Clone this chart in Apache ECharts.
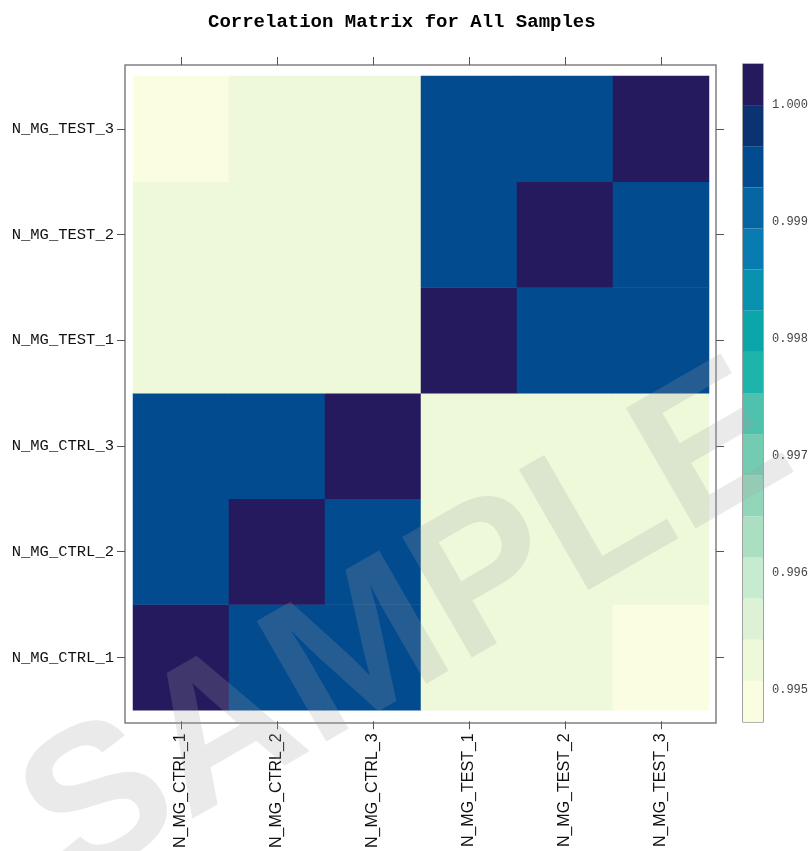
<!DOCTYPE html>
<html>
<head>
<meta charset="utf-8">
<script src="https://cdn.jsdelivr.net/npm/echarts@6/dist/echarts.min.js"></script>
<style>
    html, body {margin: 0; padding: 0; background: #fff;}
    #chart {width: 811px; height: 851px;}
</style>
</head>
<body>
<div id="chart"></div>
<script>
// sample names, bottom-to-top on y, left-to-right on x
const samples = ['N_MG_CTRL_1', 'N_MG_CTRL_2', 'N_MG_CTRL_3', 'N_MG_TEST_1', 'N_MG_TEST_2', 'N_MG_TEST_3'];

// correlation rows (one per sample, columns in the same order as samples)
const rowCtrl1 = [1.00000, 0.99952, 0.99950, 0.99530, 0.99520, 0.99505];
const rowCtrl2 = [0.99952, 1.00000, 0.99945, 0.99525, 0.99535, 0.99515];
const rowCtrl3 = [0.99950, 0.99945, 1.00000, 0.99540, 0.99530, 0.99520];
const rowTest1 = [0.99530, 0.99525, 0.99540, 1.00000, 0.99948, 0.99942];
const rowTest2 = [0.99520, 0.99535, 0.99530, 0.99948, 1.00000, 0.99950];
const rowTest3 = [0.99505, 0.99515, 0.99520, 0.99942, 0.99950, 1.00000];

// colour key: 16 levels, breaks and colours from low to high
const colorBreaks = [0.994725, 0.995076, 0.995428, 0.995779, 0.996130, 0.996481, 0.996833, 0.997184,
    0.997535, 0.997886, 0.998238, 0.998589, 0.998940, 0.999291, 0.999643, 0.999994, 1.000345];
const colorLevels = ['#fafde0', '#eef9da', '#ddf2d5', '#c7ebcf', '#abdfc1', '#92d6b9', '#73ccb2', '#4fc2ae',
    '#1db5ab', '#0aa6aa', '#0892ae', '#087cb0', '#0665a3', '#034b8f', '#0b3372', '#261a5e'];
const keyTicks = [0.995, 0.996, 0.997, 0.998, 0.999, 1.000];

const rows = [rowCtrl1, rowCtrl2, rowCtrl3, rowTest1, rowTest2, rowTest3];
const heatData = [];
rows.forEach((row, yi) => {
    row.forEach((v, xi) => {
        heatData.push([xi, yi, v]);
    });
});

const pieces = colorLevels.map((c, i) => {
    return {gte: colorBreaks[i], lt: colorBreaks[i + 1], color: c};
});
const keyData = colorLevels.map((c, i) => [i, colorBreaks[i], colorBreaks[i + 1]]);

const monoFont = '"Liberation Mono", "DejaVu Sans Mono", monospace';
const sansFont = '"Liberation Sans", Arial, sans-serif';
const tickStyle = {color: '#555', width: 1};

const chart = echarts.init(document.getElementById('chart'));
chart.setOption({
    animation: false,
    backgroundColor: '#fff',
    title: {
        text: 'Correlation Matrix for All Samples',
        left: 203,
        top: 8,
        textStyle: {fontFamily: monoFont, fontWeight: 'bold', fontSize: 19, color: '#000'}
    },
    grid: [
        // heatmap cells
        {left: 133, top: 76, width: 576, height: 636, show: false},
        // lattice panel box
        {left: 125, top: 65, width: 591, height: 658, show: true, borderColor: '#808080', borderWidth: 1.5, backgroundColor: 'transparent'},
        // colour key
        {left: 743, top: 64, width: 21, height: 658, show: true, borderColor: '#666', borderWidth: 1.2, backgroundColor: 'transparent'}
    ],
    visualMap: {
        type: 'piecewise',
        show: false,
        seriesIndex: 0,
        dimension: 2,
        pieces: pieces
    },
    xAxis: [
        {
            type: 'category', gridIndex: 0, data: samples, position: 'bottom', offset: 11,
            axisLine: {show: false},
            axisTick: {show: true, interval: 0, alignWithLabel: true, length: 8, lineStyle: tickStyle},
            axisLabel: {interval: 0, rotate: 90, margin: 12, fontFamily: sansFont, fontSize: 16, color: '#111'},
            splitLine: {show: false}
        },
        {
            type: 'category', gridIndex: 0, data: samples, position: 'top', offset: 11,
            axisLine: {show: false},
            axisTick: {show: true, interval: 0, alignWithLabel: true, length: 8, lineStyle: tickStyle},
            axisLabel: {show: false, interval: 0},
            splitLine: {show: false}
        },
        {type: 'value', gridIndex: 1, show: false},
        {type: 'value', gridIndex: 2, min: 0, max: 1, show: false}
    ],
    yAxis: [
        {
            type: 'category', gridIndex: 0, data: samples, position: 'left', offset: 8,
            axisLine: {show: false},
            axisTick: {show: true, interval: 0, alignWithLabel: true, length: 8, lineStyle: tickStyle},
            axisLabel: {interval: 0, margin: 11, fontFamily: monoFont, fontSize: 15.5, color: '#111'},
            splitLine: {show: false}
        },
        {
            type: 'category', gridIndex: 0, data: samples, position: 'right', offset: 7,
            axisLine: {show: false},
            axisTick: {show: true, interval: 0, alignWithLabel: true, length: 8, lineStyle: tickStyle},
            axisLabel: {show: false, interval: 0},
            splitLine: {show: false}
        },
        {type: 'value', gridIndex: 1, show: false},
        {
            type: 'value', gridIndex: 2, position: 'right',
            min: colorBreaks[0], max: colorBreaks[colorBreaks.length - 1],
            axisLine: {show: false},
            axisTick: {show: true, length: 5, customValues: keyTicks, lineStyle: tickStyle},
            axisLabel: {
                show: true, margin: 9, customValues: keyTicks, fontFamily: monoFont, fontSize: 12, color: '#444',
                formatter: v => v.toFixed(3)
            },
            splitLine: {show: false}
        }
    ],
    series: [
        {
            type: 'heatmap',
            xAxisIndex: 0,
            yAxisIndex: 0,
            data: heatData,
            itemStyle: {borderWidth: 0},
            emphasis: {disabled: true}
        },
        {
            type: 'custom',
            xAxisIndex: 3,
            yAxisIndex: 3,
            data: keyData,
            silent: true,
            renderItem: (params, api) => {
                let lvl = api.value(0);
                let p0 = api.coord([0, api.value(2)]);
                let p1 = api.coord([1, api.value(1)]);
                return {
                    type: 'rect',
                    shape: {x: p0[0], y: p0[1], width: p1[0] - p0[0], height: p1[1] - p0[1]},
                    style: {fill: colorLevels[lvl], stroke: null}
                };
            }
        }
    ],
    graphic: [{
        type: 'text',
        x: 408,
        y: 630,
        rotation: 30 * Math.PI / 180,
        z: 100,
        silent: true,
        style: {
            text: 'SAMPLE',
            fontFamily: sansFont,
            fontWeight: 'bold',
            fontSize: 202,
            fill: 'rgba(160, 160, 165, 0.22)',
            textAlign: 'center',
            textVerticalAlign: 'middle'
        }
    }]
});
</script>
</body>
</html>
